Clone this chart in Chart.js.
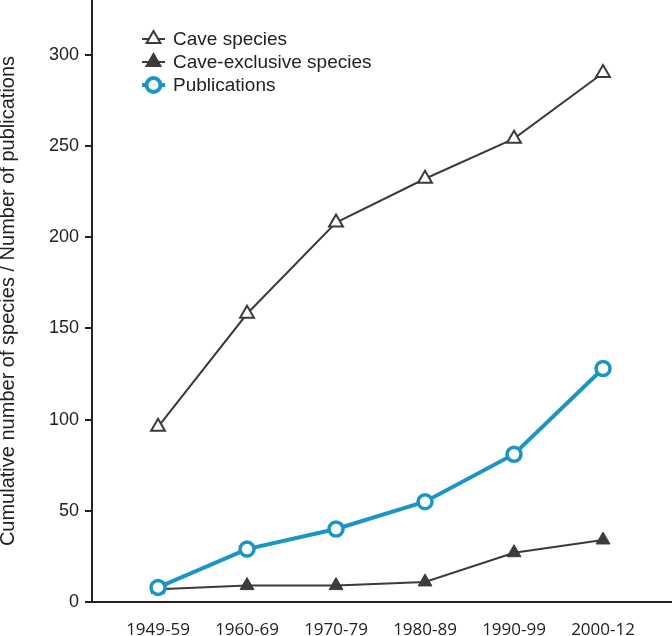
<!DOCTYPE html>
<html>
<head>
<meta charset="utf-8">
<script src="https://cdn.jsdelivr.net/npm/chart.js@4/dist/chart.umd.min.js"></script>
<style>
    html, body { margin: 0; padding: 0; background: #fff; }
    #wrap { width: 672px; height: 636px; position: relative; }
</style>
</head>
<body>
<div id="wrap"><canvas id="caveChart"></canvas></div>
<script>
// --- data ---
const periods = ['1949-59', '1960-69', '1970-79', '1980-89', '1990-99', '2000-12'];
const caveSpecies = [96, 158, 208, 232, 254, 290];
const caveExclusive = [7, 9, 9, 11, 27, 34];
const publications = [8, 29, 40, 55, 81, 128];
const yTicks = [0, 50, 100, 150, 200, 250, 300];

const grey = '#3b3b3b';
const blue = '#1b95c6';

function toPoints(values) {
    return values.map((v, i) => ({ x: i, y: v }));
}

// legend drawn inside the plot, top left, with a short line through each marker
const insideLegend = {
    id: 'insideLegend',
    afterDraw(chart) {
        const ctx = chart.ctx;
        ctx.save();
        chart.data.datasets.forEach((ds) => {
            const y = 39 + ds.legendRow * 23;
            ctx.strokeStyle = ds.borderColor;
            ctx.lineWidth = ds.borderWidth;
            ctx.beginPath();
            ctx.moveTo(142, y);
            ctx.lineTo(165, y);
            ctx.stroke();
            ctx.fillStyle = ds.pointBackgroundColor;
            ctx.strokeStyle = ds.pointBorderColor;
            Chart.helpers.drawPoint(ctx, {
                pointStyle: ds.pointStyle,
                radius: ds.pointRadius,
                borderWidth: ds.pointBorderWidth,
                rotation: 0
            }, 153.5, y);
            ctx.fillStyle = '#222';
            ctx.font = '19px "Liberation Sans", Arial, sans-serif';
            ctx.textBaseline = 'middle';
            ctx.textAlign = 'left';
            ctx.fillText(ds.label, 173, y + 1);
        });
        ctx.restore();
    }
};

const ctx = document.getElementById('caveChart');
new Chart(ctx, {
    type: 'line',
    data: {
        datasets: [
            {
                label: 'Publications',
                data: toPoints(publications),
                legendRow: 2,
                order: 0,
                borderColor: blue,
                borderWidth: 4,
                pointStyle: 'circle',
                pointRadius: 7,
                pointBorderWidth: 3.5,
                pointBackgroundColor: '#fff',
                pointBorderColor: blue
            },
            {
                label: 'Cave species',
                data: toPoints(caveSpecies),
                legendRow: 0,
                order: 1,
                borderColor: grey,
                borderWidth: 2,
                pointStyle: 'triangle',
                pointRadius: 8,
                pointBorderWidth: 2,
                pointBackgroundColor: '#fff',
                pointBorderColor: grey
            },
            {
                label: 'Cave-exclusive species',
                data: toPoints(caveExclusive),
                legendRow: 1,
                order: 2,
                borderColor: grey,
                borderWidth: 2,
                pointStyle: 'triangle',
                pointRadius: 8,
                pointBorderWidth: 1,
                pointBackgroundColor: grey,
                pointBorderColor: grey
            }
        ]
    },
    options: {
        responsive: true,
        maintainAspectRatio: false,
        animation: false,
        layout: { padding: 0, autoPadding: false },
        plugins: {
            legend: { display: false },
            tooltip: { enabled: false }
        },
        scales: {
            x: {
                type: 'linear',
                min: -0.742,
                max: 5.775,
                afterBuildTicks: (scale) => {
                    scale.ticks = periods.map((p, i) => ({ value: i }));
                },
                afterFit: (scale) => {
                    scale.height = 34;
                    scale.paddingLeft = 0;
                    scale.paddingRight = 0;
                },
                grid: { display: false, drawTicks: false },
                border: { display: true, color: '#222', width: 2 },
                ticks: {
                    padding: 18,
                    maxRotation: 0,
                    autoSkip: false,
                    color: '#222',
                    font: { family: '"Open Sans", sans-serif', size: 17 },
                    callback: (value) => periods[value]
                }
            },
            y: {
                min: 0,
                max: 330,
                afterBuildTicks: (scale) => {
                    scale.ticks = yTicks.map(v => ({ value: v }));
                },
                afterFit: (scale) => {
                    scale.width = 92;
                    scale.paddingTop = 0;
                    scale.paddingBottom = 0;
                },
                grid: {
                    drawOnChartArea: false,
                    drawTicks: true,
                    tickLength: 7,
                    color: '#222',
                    lineWidth: 2
                },
                border: { display: true, color: '#222', width: 2 },
                ticks: {
                    padding: 6,
                    color: '#222',
                    font: { family: '"Liberation Sans", Arial, sans-serif', size: 18 }
                },
                title: {
                    display: true,
                    text: 'Cumulative number of species / Number of publications',
                    color: '#222',
                    padding: 0,
                    font: { family: '"Liberation Sans", Arial, sans-serif', size: 20, lineHeight: 0.85 }
                }
            }
        }
    },
    plugins: [insideLegend]
});
</script>
</body>
</html>
